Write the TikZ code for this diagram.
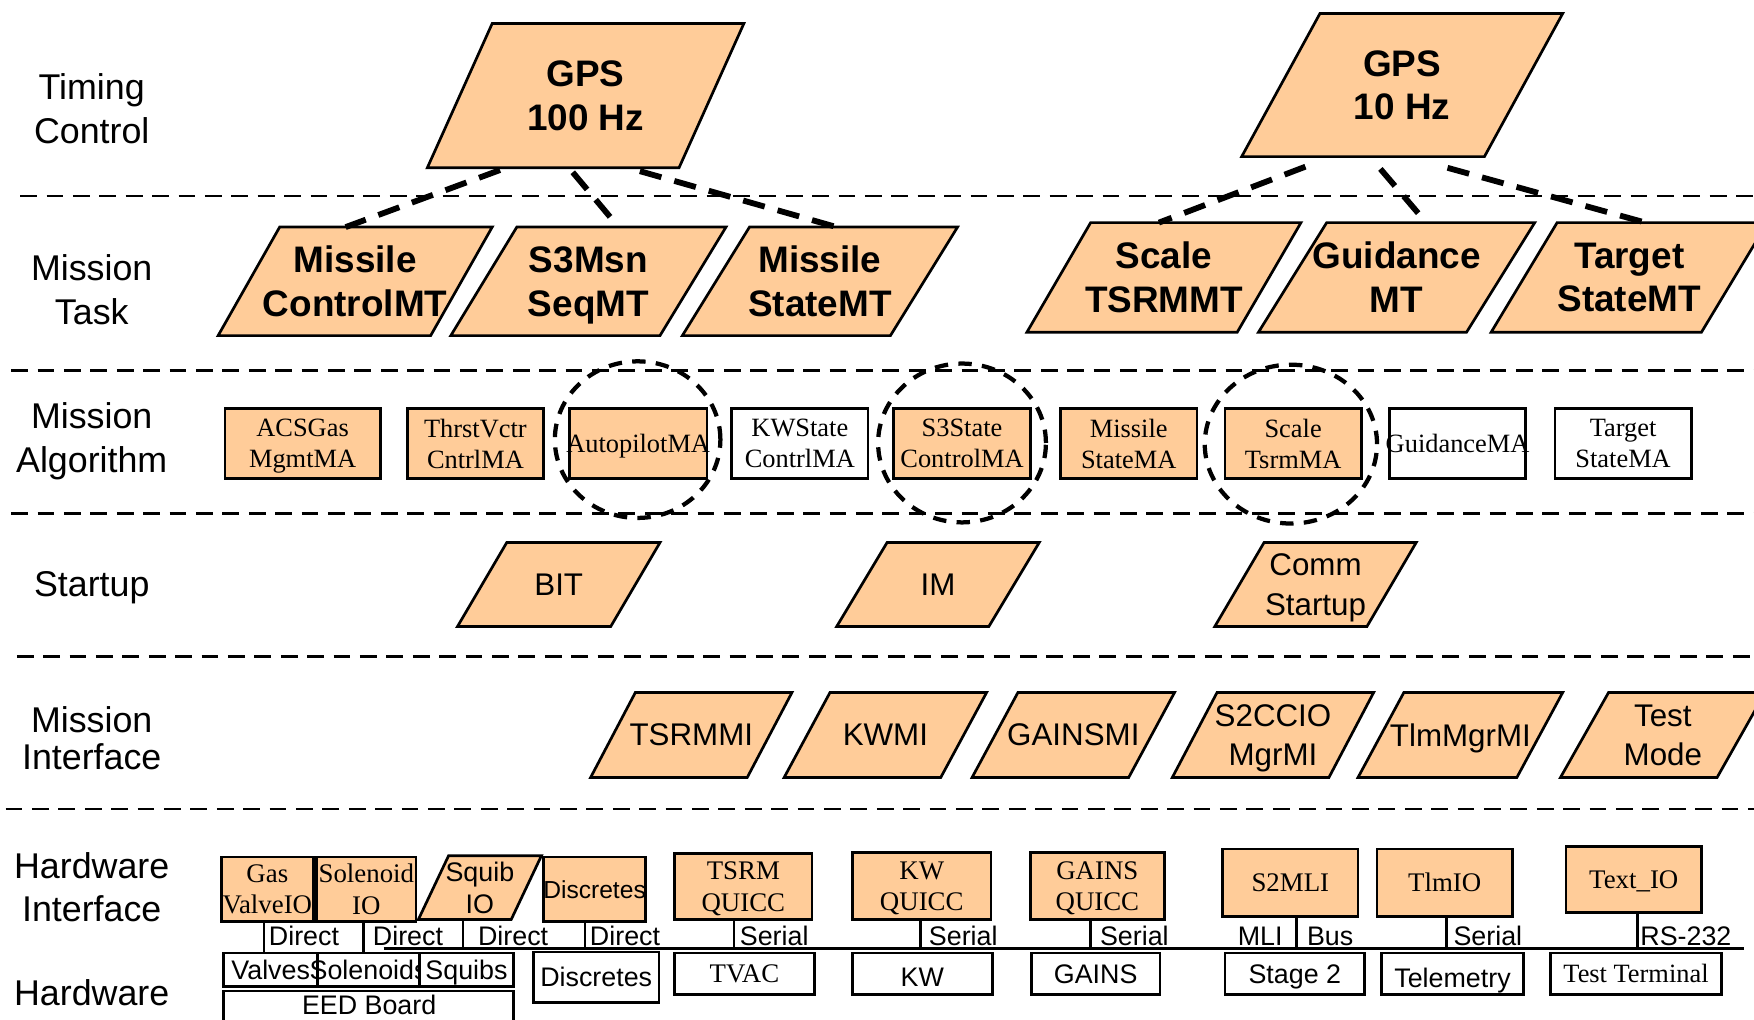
\documentclass[tikz,border=0pt]{standalone}
\usepackage{fontspec}
\setmainfont{Liberation Sans}
\newfontfamily\tms{Liberation Serif}
\usetikzlibrary{shapes.geometric}
\definecolor{peach}{RGB}{255,204,153}

% rectangle node given by its corners: style, name, x1, y1, x2, y2, text
\newcommand\rbox[7]{%
  \node[#1,minimum width={(#5-#3)*0.5pt},minimum height={(#6-#4)*0.5pt}]
    (#2) at ({(#3+#5)/2},{(#4+#6)/2}) {#7};}
% slanted box: text style, name, x bottom-left, y bottom, x top-left, y top, width, text
\newcommand\pgram[8]{%
  \path[pgbox] (#3,#4) -- (#5,#6) -- ({#5+#7},#6) -- ({#3+#7},#4) -- cycle;
  \node[#1] (#2) at ({(#3+#5)/2+#7/2},{(#4+#6)/2}) {#8};}

\tikzset{
  sep/.style={line width=1.1pt, dash pattern=on 7.5pt off 4.3pt},
  link/.style={line width=2.6pt, dash pattern=on 10pt off 6pt},
  ring/.style={draw, ellipse, line width=1.9pt, dash pattern=on 6pt off 4.6pt, inner sep=0pt},
  pgbox/.style={draw, fill=peach, line width=1.2pt, line join=miter},
  wire/.style={line width=1.1pt},
  side/.style={font=\fontsize{16}{19.5}\selectfont, align=center},
  tbold/.style={font=\fontsize{16.5}{19.5}\selectfont\bfseries, align=center},
  sreg/.style={font=\fontsize{14}{17.5}\selectfont, align=center},
  alg/.style={draw, line width=1.2pt, inner xsep=-4pt, inner ysep=0pt,
    font=\tms\fontsize{11.8}{14}\selectfont, align=center},
  hwi/.style={draw, line width=1.2pt, fill=peach, inner xsep=-4pt, inner ysep=0pt,
    font=\tms\fontsize{12}{14}\selectfont, align=center},
  hws/.style={draw, line width=1.2pt, fill=white, inner xsep=-4pt, inner ysep=0pt,
    font=\fontsize{12}{14}\selectfont, align=center},
  wlbl/.style={font=\fontsize{12}{14}\selectfont, inner sep=0pt},
}

\begin{document}
\begin{tikzpicture}[x=0.5pt,y=-0.5pt,every node/.append style={text depth=0pt}]
\useasboundingbox (0,0) rectangle (1568,911);
\clip (0,0) rectangle (1568,911);

% layer separators
\draw[sep] (18,175) -- (1568,175);
\draw[sep] (10,331) -- (1568,331);
\draw[sep] (10,459) -- (1568,459);
\draw[sep] (15,587) -- (1568,587);
\draw[sep] (5,723) -- (1568,723);

% layer names
\node[side] (nTiming) at (82,97) {Timing\\Control};
\node[side] (nTask) at (82,259) {Mission\\Task};
\node[side] (nAlg) at (82,391) {Mission\\Algorithm};
\node[side] (nStart) at (82,522) {Startup};
\node[side,font=\fontsize{16}{16.5}\selectfont] (nIface) at (82,660) {Mission\\Interface};
\node[side] (nHwi) at (82,793) {Hardware\\Interface};
\node[side] (nHw) at (82,887) {Hardware};

% timing control
\pgram{tbold}{gps100}{382}{150}{440}{21}{225}{GPS\\100 Hz}
\pgram{tbold}{gps10}{1110}{140}{1180}{12}{217}{GPS\\10 Hz}

% mission tasks
\pgram{tbold}{mcmt}{195}{300}{250}{203}{190}{Missile\\ControlMT}
\pgram{tbold}{s3mt}{403}{300}{462}{203}{187}{S3Msn\\SeqMT}
\pgram{tbold}{msmt}{610}{300}{670}{203}{186}{Missile\\StateMT}
\pgram{tbold}{scmt}{918}{297}{975}{199}{188}{Scale\\TSRMMT}
\pgram{tbold}{gdmt}{1125}{297}{1186}{199}{186}{Guidance\\MT}
\pgram{tbold}{tgmt}{1333}{297}{1392}{199}{188}{Target\\StateMT}

% timing links
\coordinate (a1) at (447,152); \coordinate (b1) at (309,203);
\coordinate (a2) at (512,154); \coordinate (b2) at (553,203);
\coordinate (a3) at (572,153); \coordinate (b3) at (748,203);
\coordinate (a4) at (1167,149); \coordinate (b4) at (1036,199);
\coordinate (a5) at (1234,151); \coordinate (b5) at (1275,199);
\coordinate (a6) at (1294,150); \coordinate (b6) at (1471,199);
\draw[link] (a1) -- (b1);
\draw[link] (a2) -- (b2);
\draw[link] (a3) -- (b3);
\draw[link] (a4) -- (b4);
\draw[link] (a5) -- (b5);
\draw[link] (a6) -- (b6);

% mission algorithms
\rbox{alg,fill=peach}{acs}{201}{365}{340}{428}{ACSGas\\MgmtMA}
\rbox{alg,fill=peach}{thr}{364}{365}{486}{428}{ThrstVctr\\CntrlMA}
\rbox{alg,fill=peach}{apm}{509}{365}{632}{428}{AutopilotMA}
\rbox{alg,fill=white}{kws}{654}{365}{776}{428}{KWState\\ContrlMA}
\rbox{alg,fill=peach}{s3s}{799}{365}{921}{428}{S3State\\ControlMA}
\rbox{alg,fill=peach}{msa}{948}{365}{1070}{428}{Missile\\StateMA}
\rbox{alg,fill=peach}{sts}{1095}{365}{1217}{428}{Scale\\TsrmMA}
\rbox{alg,fill=white}{gma}{1242}{365}{1364}{428}{GuidanceMA}
\rbox{alg,fill=white}{tsa}{1390}{365}{1512}{428}{Target\\StateMA}

% highlighted algorithms
\node[ring, minimum width=74pt, minimum height=70pt] (r1) at (570,393) {};
\node[ring, minimum width=75pt, minimum height=71pt] (r2) at (860,396) {};
\node[ring, minimum width=77pt, minimum height=71pt] (r3) at (1154,397) {};

% startup
\pgram{sreg}{bit}{409}{560}{453}{485}{137}{BIT}
\pgram{sreg}{im}{748}{560}{793}{485}{136}{IM}
\pgram{sreg}{comm}{1086}{560}{1130}{485}{136}{Comm\\Startup}

% mission interfaces
\pgram{sreg}{tsrmmi}{528}{695}{568}{619}{140}{TSRMMI}
\pgram{sreg}{kwmi}{701}{695}{742}{619}{140}{KWMI}
\pgram{sreg}{gainsmi}{869}{695}{910}{619}{140}{GAINSMI}
\pgram{sreg}{s2cc}{1048}{695}{1088}{619}{140}{S2CCIO\\MgrMI}
\pgram{sreg}{tlmmi}{1214}{695}{1255}{619}{142}{TlmMgrMI}
\pgram{sreg}{tmode}{1395}{695}{1438}{619}{140}{Test\\Mode}

% hardware interfaces
\rbox{hwi}{gasio}{198}{766}{280}{824}{Gas\\ValveIO}
\rbox{hwi}{solio}{283}{766}{372}{824}{Solenoid\\IO}
\pgram{font=\fontsize{12}{14}\selectfont, align=center}{sqio}{374}{822}{401}{765}{83}{Squib\\IO}
\rbox{hwi,font=\fontsize{11}{14}\selectfont}{disio}{486}{766}{577}{824}{Discretes}
\rbox{hwi}{tsrmq}{603}{763}{726}{822}{TSRM\\QUICC}
\rbox{hwi}{kwq}{762}{762}{886}{822}{KW\\QUICC}
\rbox{hwi}{gainsq}{921}{762}{1041}{822}{GAINS\\QUICC}
\rbox{hwi}{s2mli}{1093}{759}{1214}{819}{S2MLI}
\rbox{hwi}{tlmio}{1231}{759}{1352}{819}{TlmIO}
\rbox{hwi}{textio}{1400}{757}{1521}{816}{Text\_IO}

% hardware
\rbox{hws}{valves}{200}{852}{284}{882}{Valves}
\rbox{hws}{solen}{284}{852}{375}{882}{Solenoids}
\rbox{hws}{squibs}{375}{852}{459}{882}{Squibs}
\rbox{hws}{eed}{200}{886}{459}{932}{}
\node[font=\fontsize{12}{14}\selectfont] (eedt) at (330,898) {EED Board};
\rbox{hws}{disc}{477}{851}{589}{896}{Discretes}
\rbox{hws,font=\tms\fontsize{12}{14}\selectfont}{tvac}{603}{852}{728}{889}{TVAC}
\rbox{hws}{kw}{762}{852}{887}{889}{\raisebox{-3.5pt}{KW}}
\rbox{hws}{gains}{922}{852}{1037}{889}{GAINS}
\rbox{hws}{stage}{1095}{852}{1220}{889}{Stage 2}
\rbox{hws}{telem}{1235}{852}{1362}{889}{\raisebox{-3.5pt}{Telemetry}}
\rbox{hws,font=\tms\fontsize{11.8}{14}\selectfont}{tterm}{1386}{852}{1539}{889}{Test Terminal}

% bus and links
\coordinate (busL) at (343,848);
\coordinate (busR) at (1559,848);
\draw[wire] (busL) -- (busR);
\coordinate (v1) at (236,852);
\coordinate (v2) at (325,852);
\coordinate (v3) at (414,848);
\coordinate (v4) at (523,848);
\coordinate (v5) at (656,848);
\coordinate (v6) at (823,848);
\coordinate (v7) at (975,848);
\coordinate (v8) at (1159,848);
\coordinate (v9) at (1293,848);
\coordinate (v10) at (1464,848);
\coordinate (sqb) at (414,822);
\draw[wire] (gasio.south -| v1) -- (v1);
\draw[wire] (solio.south -| v2) -- (v2);
\draw[wire] (sqb) -- (v3);
\draw[wire] (disio.south -| v4) -- (v4);
\draw[wire] (tsrmq.south -| v5) -- (v5);
\draw[wire] (kwq.south -| v6) -- (v6);
\draw[wire] (gainsq.south -| v7) -- (v7);
\draw[wire] (s2mli.south -| v8) -- (v8);
\draw[wire] (tlmio.south -| v9) -- (v9);
\draw[wire] (textio.south -| v10) -- (v10);

% link labels
\node[wlbl, anchor=base west] (l1) at (240,845) {Direct};
\node[wlbl, anchor=base west] (l2) at (333,845) {Direct};
\node[wlbl, anchor=base west] (l3) at (427,845) {Direct};
\node[wlbl, anchor=base west] (l4) at (527,845) {Direct};
\node[wlbl, anchor=base west] (l5) at (661,845) {Serial};
\node[wlbl, anchor=base west] (l6) at (830,845) {Serial};
\node[wlbl, anchor=base west] (l7) at (983,845) {Serial};
\node[wlbl, anchor=base east] (l8) at (1147,845) {MLI};
\node[wlbl, anchor=base west] (l9) at (1168,845) {Bus};
\node[wlbl, anchor=base west] (l10) at (1299,845) {Serial};
\node[wlbl, anchor=base west] (l11) at (1466,845) {RS-232};
\end{tikzpicture}
\end{document}
